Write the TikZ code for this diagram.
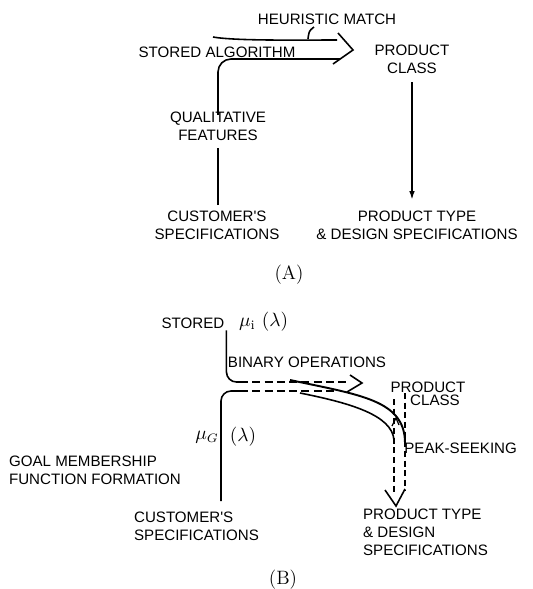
\documentclass[tikz,border=0pt]{standalone}
\usepackage{fontspec}
\usepackage{amsmath}
\usetikzlibrary{arrows.meta,positioning}
\newfontfamily\letterfont{Liberation Sans}

\begin{document}
\begin{tikzpicture}[
    x=0.02cm, y=-0.02cm,
    txt/.style={font=\letterfont\fontsize{8.6}{10.2}\selectfont, align=center, inner sep=1pt},
    txtl/.style={txt, align=left},
    mathtxt/.style={font=\fontsize{10.5}{12}\selectfont, inner sep=1pt},
    figlabel/.style={font=\fontsize{11}{13}\selectfont, inner sep=1pt},
    wire/.style={line width=0.9pt},
    dwire/.style={line width=0.9pt, dash pattern=on 4.5pt off 2.5pt},
    dvert/.style={line width=0.8pt, dash pattern=on 3.5pt off 2pt},
    chev/.style={line width=0.9pt, line join=miter},
    arrow/.style={line width=0.9pt, -{Latex[length=5pt,width=3.2pt]}}
]
    \useasboundingbox (0,0) rectangle (532,589);

    % (A): heuristic scheme
    \node[txt] (heur) at (327,19) {HEURISTIC MATCH};
    \node[txt] (stored) at (217,52) {STORED ALGORITHM};
    \node[txt] (pclass) at (412,59) {PRODUCT\\CLASS};
    \node[txt] (qual) at (218,126) {QUALITATIVE\\FEATURES};
    \node[txt] (custA) at (217,225) {CUSTOMER'S\\SPECIFICATIONS};
    \node[txt] (ptypeA) at (417,225) {PRODUCT TYPE\\\& DESIGN SPECIFICATIONS};
    \node[figlabel] (capA) at (289,275) {(A)};

    % wide arrow through the stored algorithm
    \coordinate (aTop) at (213,37);
    \coordinate (aTopEnd) at (337,40);
    \coordinate (aBotEnd) at (340,59);
    \coordinate (aArmT) at (338,33);
    \coordinate (aTip) at (353,50);
    \coordinate (aArmB) at (333,64);
    \draw[wire] (aTop) .. controls (235,41) and (300,40) .. (aTopEnd);
    \draw[wire, rounded corners=0.26cm] ([yshift=-3pt]qual.north) |- (aBotEnd);
    \draw[chev] (aArmT) -- (aTip) -- (aArmB);

    % little hook under the heuristic match
    \coordinate (hkTop) at (314,27);
    \coordinate (hkEnd) at (308,39);
    \draw[wire] (hkTop) .. controls (309,31) .. (hkEnd);

    \draw[arrow, shorten <=4pt, shorten >=5pt] (pclass.south) -- (pclass.south |- ptypeA.north);
    \draw[wire, shorten <=2pt, shorten >=3pt] (custA.north -| qual.south) -- (qual.south);

    % (B): fuzzy scheme
    \node[txt] (storedB) at (193,323) {STORED};
    \node[mathtxt, anchor=west] (mui) at (237,322) {$\mu_{\mathrm{i}}$\,\,$(\lambda)$};
    \node[txt] (binop) at (307,362) {BINARY OPERATIONS};
    \node[txt] (prodB) at (428,387) {PRODUCT};
    \node[txt, below=-1pt of prodB, xshift=0.14cm] (classB) {CLASS};
    \node[txt, anchor=west, inner sep=0pt] (peak) at (404,448) {PEAK-SEEKING};
    \node[mathtxt] (muG) at (207,437) {$\mu_G$};
    \node[mathtxt, right=4pt of muG] (lamG) {$(\lambda)$};
    \node[txtl, anchor=west] (goal) at (7,470) {GOAL MEMBERSHIP\\FUNCTION FORMATION};
    \node[txtl, anchor=west] (custB) at (132,526) {CUSTOMER'S\\SPECIFICATIONS};
    \node[txtl, anchor=west] (ptypeB) at (361,532) {PRODUCT TYPE\\\& DESIGN\\SPECIFICATIONS};
    \node[figlabel] (capB) at (283,580) {(B)};

    % stored membership functions, dashed into the binary operation
    \coordinate (bTopMid) at (240,382);
    \coordinate (bTopEnd) at (350,382);
    \coordinate (bArmT) at (350,375);
    \coordinate (bTip) at (362,383);
    \coordinate (bArmB) at (347,392);
    \draw[wire, rounded corners=0.2cm] (storedB.south east) |- (bTopMid);
    \draw[dwire] (bTopMid) -- (bTopEnd);
    \draw[chev] (bArmT) -- (bTip) -- (bArmB);

    % goal membership function
    \coordinate (gBot) at (221,501);
    \coordinate (bLowMid) at (240,391);
    \coordinate (bLowEnd) at (337,391);
    \draw[wire, rounded corners=0.2cm] (gBot) |- (bLowMid);
    \draw[dwire] (bLowMid) -- (bLowEnd);

    % peak-seeking curves
    \coordinate (sA0) at (290,380);
    \coordinate (sA1) at (405,443);
    \coordinate (sB0) at (300,393);
    \coordinate (sB1) at (394,440);
    \draw[wire, line width=1.1pt] (sA0) .. controls (360,395) and (405,400) .. (sA1);
    \draw[wire] (sB0) .. controls (350,403) and (392,415) .. (sB1);
    \coordinate (pkL) at (392,426);
    \coordinate (pkTip) at (396,418);
    \coordinate (pkR) at (399,425);
    \draw[chev, line width=0.7pt] (pkL) -- (pkTip) -- (pkR);

    % dashed double arrow down to the product type
    \coordinate (dL0) at (394,399);
    \coordinate (dL1) at (394,492);
    \coordinate (dR0) at (405,393);
    \coordinate (dR1) at (405,490);
    \coordinate (dArmL) at (385,490);
    \coordinate (dTip) at (396,506);
    \coordinate (dArmR) at (405,489);
    \draw[dvert] (dL0) -- (dL1);
    \draw[dvert] (dR0) -- (dR1);
    \draw[chev] (dArmL) -- (dTip) -- (dArmR);
\end{tikzpicture}
\end{document}
